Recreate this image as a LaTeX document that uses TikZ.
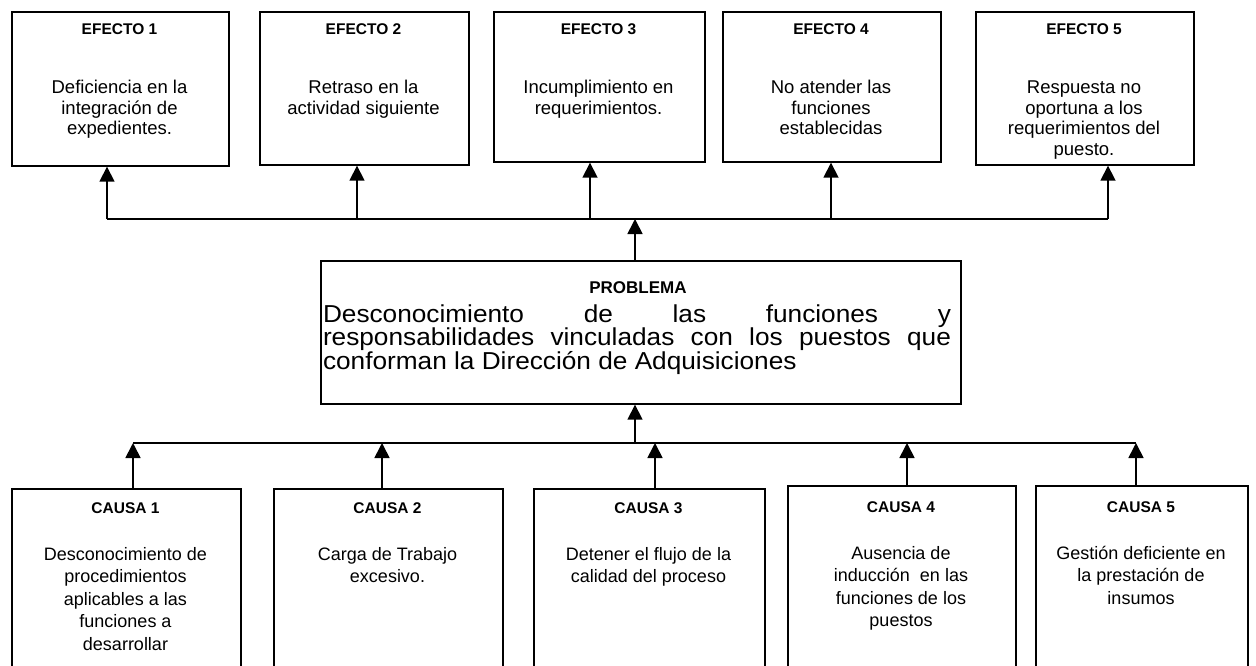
\documentclass[tikz,border=0pt]{standalone}
\usepackage{fontspec}
\setmainfont{Liberation Sans}
\newfontfamily\widefont[FakeStretch=1.07]{Liberation Sans}
\usetikzlibrary{arrows.meta}
\tikzset{
  box/.style={draw, line width=1.7pt, anchor=north west, inner sep=0pt},
  hdr/.style={anchor=base, inner sep=0pt, font=\bfseries\fontsize{15.5}{17}\selectfont},
  txt/.style={anchor=base, inner sep=0pt},
  wire/.style={line width=1.7pt},
  arr/.style={line width=1.7pt, -{Triangle[length=15pt,width=15pt]}},
}
\newcommand{\efbody}[2]{\parbox[t]{#1}{\centering\fontsize{18.5}{20.5}\selectfont #2}}
\newcommand{\cabody}[2]{\parbox[t]{#1}{\centering\fontsize{18}{22.5}\selectfont #2}}
\begin{document}
\begin{tikzpicture}[x=1pt,y=-1pt]
\useasboundingbox (0,0) rectangle (1256,666);
\clip (0,0) rectangle (1256,666);
% effects
\node[box, minimum width=217pt, minimum height=154pt] (e1) at (11,11) {};
\node[box, minimum width=209pt, minimum height=153pt] (e2) at (259,11) {};
\node[box, minimum width=211pt, minimum height=150pt] (e3) at (493,11) {};
\node[box, minimum width=218pt, minimum height=150pt] (e4) at (722,11) {};
\node[box, minimum width=218pt, minimum height=153pt] (e5) at (975,11) {};
\node[hdr] (e1h) at (119.5,35) {EFECTO 1};
\node[hdr] (e2h) at (363.5,35) {EFECTO 2};
\node[hdr] (e3h) at (598.5,35) {EFECTO 3};
\node[hdr] (e4h) at (831,35) {EFECTO 4};
\node[hdr] (e5h) at (1084,35) {EFECTO 5};
\node[txt] (e1t) at (119.5,94) {\efbody{208pt}{Deficiencia en la\\integración de\\expedientes.}};
\node[txt] (e2t) at (363.5,94) {\efbody{205pt}{Retraso en la\\actividad siguiente}};
\node[txt] (e3t) at (598.5,94) {\efbody{205pt}{Incumplimiento en\\requerimientos.}};
\node[txt] (e4t) at (831,94) {\efbody{208pt}{No atender las\\funciones\\establecidas}};
\node[txt] (e5t) at (1084,94) {\efbody{208pt}{Respuesta no\\oportuna a los\\requerimientos del\\puesto.}};
% problem
\node[box, minimum width=640pt, minimum height=143pt] (mid) at (320,260) {};
\node[anchor=base, inner sep=0pt, font=\bfseries\fontsize{17}{19}\selectfont] (midh) at (638,293) {PROBLEMA};
\node[txt] (midt) at (637,322) {\parbox[t]{628pt}{\widefont\fontsize{24.5}{23.5}\selectfont\noindent
\makebox[628pt][s]{Desconocimiento de las funciones y}\\
\makebox[628pt][s]{responsabilidades vinculadas con los puestos que}\\
conforman la Dirección de Adquisiciones}};
% causes
\node[box, minimum width=229pt, minimum height=220pt] (c1) at (11,488) {};
\node[box, minimum width=229pt, minimum height=220pt] (c2) at (273,488) {};
\node[box, minimum width=231pt, minimum height=220pt] (c3) at (533,488) {};
\node[box, minimum width=228pt, minimum height=220pt] (c4) at (787,485) {};
\node[box, minimum width=212pt, minimum height=220pt] (c5) at (1035,485) {};
\node[hdr] (c1h) at (125.5,513) {CAUSA 1};
\node[hdr] (c2h) at (387.5,513) {CAUSA 2};
\node[hdr] (c3h) at (648.5,513) {CAUSA 3};
\node[hdr] (c4h) at (901,512) {CAUSA 4};
\node[hdr] (c5h) at (1141,512) {CAUSA 5};
\node[txt] (c1t) at (125.5,560) {\cabody{215pt}{Desconocimiento de\\procedimientos\\aplicables a las\\funciones a\\desarrollar}};
\node[txt] (c2t) at (387.5,560) {\cabody{215pt}{Carga de Trabajo\\excesivo.}};
\node[txt] (c3t) at (648.5,560) {\cabody{215pt}{Detener el flujo de la\\calidad del proceso}};
\node[txt] (c4t) at (901,559) {\cabody{215pt}{Ausencia de\\inducción\ \ en las\\funciones de los\\puestos}};
\node[txt] (c5t) at (1141,559) {\cabody{205pt}{Gestión deficiente en\\la prestación de\\insumos}};
% junctions
\coordinate (j1) at (107,219);
\coordinate (j2) at (357,219);
\coordinate (j3) at (590,219);
\coordinate (j4) at (831,219);
\coordinate (j5) at (1108,219);
\coordinate (jm) at (635,219);
\coordinate (k1) at (133,443);
\coordinate (k2) at (382,443);
\coordinate (k3) at (655,443);
\coordinate (k4) at (907,443);
\coordinate (k5) at (1136,443);
\coordinate (km) at (635,443);
% connectors
\draw[wire] (j1) -- (j5);
\draw[arr] (j1) -- (j1 |- e1.south);
\draw[arr] (j2) -- (j2 |- e2.south);
\draw[arr] (j3) -- (j3 |- e3.south);
\draw[arr] (j4) -- (j4 |- e4.south);
\draw[arr] (j5) -- (j5 |- e5.south);
\draw[arr] (jm |- mid.north) -- (jm);
\draw[wire] (k1) -- (k5);
\draw[arr] (km) -- (km |- mid.south);
\draw[arr] (k1 |- c1.north) -- (k1);
\draw[arr] (k2 |- c2.north) -- (k2);
\draw[arr] (k3 |- c3.north) -- (k3);
\draw[arr] (k4 |- c4.north) -- (k4);
\draw[arr] (k5 |- c5.north) -- (k5);
\end{tikzpicture}
\end{document}
